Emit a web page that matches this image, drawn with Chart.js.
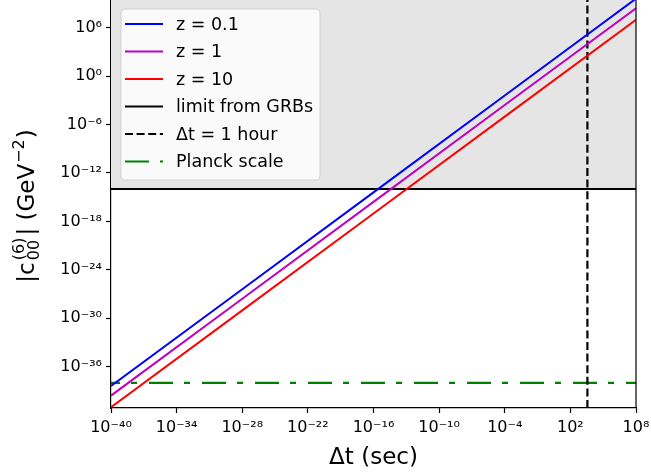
<!DOCTYPE html>
<html><head><meta charset="utf-8">
<script src="https://cdn.jsdelivr.net/npm/chart.js@4.4.1/dist/chart.umd.min.js"></script>
<style>html,body{margin:0;padding:0;background:#fff;}#wrap{width:651px;height:473px;}</style>
</head><body><div id="wrap"><canvas id="c" width="651" height="473"></canvas></div>
<script>
// ---- data ----
const dtSec = [1e-40, 1e-28, 1e-16, 1e-4, 1e8];
const cZ01 = [4.0e-39, 4.0e-27, 4.0e-15, 4.0e-3, 4.0e9];
const cZ1  = [2.6e-40, 2.6e-28, 2.6e-16, 2.6e-4, 2.6e8];
const cZ10 = [9.5e-42, 9.5e-30, 9.5e-18, 9.5e-6, 9.5e6];
const seriesLabels = ['z = 0.1', 'z = 1', 'z = 10', 'limit from GRBs', 'Δt = 1 hour', 'Planck scale'];
const grbLimit = 1e-14;
const oneHour = 3600;
const planckScale = 1e-38;
const xRange = [1e-40, 1e8];
const yRange = [7.6e-42, 2.7e9];
const xTickValues = [1e-40, 1e-34, 1e-28, 1e-22, 1e-16, 1e-10, 1e-4, 1e2, 1e8];
const xTickLabels = ['10⁻⁴⁰', '10⁻³⁴', '10⁻²⁸', '10⁻²²', '10⁻¹⁶', '10⁻¹⁰', '10⁻⁴', '10²', '10⁸'];
const yTickValues = [1e-36, 1e-30, 1e-24, 1e-18, 1e-12, 1e-6, 1e0, 1e6];
const yTickLabels = ['10⁻³⁶', '10⁻³⁰', '10⁻²⁴', '10⁻¹⁸', '10⁻¹²', '10⁻⁶', '10⁰', '10⁶'];
const xTitle = 'Δt (sec)';

const FONT = '"DejaVu Sans", sans-serif';
const pts = (xs, ys) => xs.map((x, i) => ({x: x, y: ys[i]}));

const datasets = [
  {label: seriesLabels[0], data: pts(dtSec, cZ01), borderColor: '#0000ff', borderWidth: 2},
  {label: seriesLabels[1], data: pts(dtSec, cZ1), borderColor: '#bf00bf', borderWidth: 2},
  {label: seriesLabels[2], data: pts(dtSec, cZ10), borderColor: '#ff0000', borderWidth: 2},
  {label: seriesLabels[3], data: pts(xRange, [grbLimit, grbLimit]), borderColor: '#000000', borderWidth: 2,
   fill: 'end', backgroundColor: '#e5e5e5'},
  {label: seriesLabels[4], data: pts([oneHour, oneHour], yRange), borderColor: '#000000', borderWidth: 2.2,
   borderDash: [8, 3.6]},
  {label: seriesLabels[5], data: pts(xRange, [planckScale, planckScale]), borderColor: '#008000', borderWidth: 2.2,
   borderDash: [24, 11, 6, 12], borderDashOffset: 15}
];
datasets.forEach(d => { d.pointRadius = 0; d.pointHoverRadius = 0; d.tension = 0; d.borderCapStyle = 'butt'; if (d.fill === undefined) d.fill = false; });

const decor = {
  id: 'decor',
  afterDraw(chart) {
    const ctx = chart.ctx, a = chart.chartArea;
    // right spine
    ctx.save();
    ctx.strokeStyle = '#000'; ctx.lineWidth = 1.2;
    ctx.beginPath(); ctx.moveTo(a.right, a.top); ctx.lineTo(a.right, a.bottom); ctx.stroke();
    ctx.restore();

    // legend
    const lx = 121, ly = 9, lw = 199, lh = 171, r = 4;
    ctx.save();
    ctx.beginPath();
    ctx.moveTo(lx + r, ly); ctx.lineTo(lx + lw - r, ly); ctx.quadraticCurveTo(lx + lw, ly, lx + lw, ly + r);
    ctx.lineTo(lx + lw, ly + lh - r); ctx.quadraticCurveTo(lx + lw, ly + lh, lx + lw - r, ly + lh);
    ctx.lineTo(lx + r, ly + lh); ctx.quadraticCurveTo(lx, ly + lh, lx, ly + lh - r);
    ctx.lineTo(lx, ly + r); ctx.quadraticCurveTo(lx, ly, lx + r, ly); ctx.closePath();
    ctx.fillStyle = 'rgba(255,255,255,0.8)'; ctx.fill();
    ctx.strokeStyle = 'rgba(204,204,204,0.8)'; ctx.lineWidth = 1; ctx.stroke();
    ctx.font = '17.5px ' + FONT; ctx.fillStyle = '#000'; ctx.textBaseline = 'middle'; ctx.textAlign = 'left';
    chart.data.datasets.forEach((d, i) => {
      const y = 24 + i * 27.5;
      ctx.save();
      ctx.strokeStyle = d.borderColor; ctx.lineWidth = d.borderWidth;
      ctx.setLineDash(d.borderDash || []);
      ctx.lineCap = 'butt';
      ctx.beginPath(); ctx.moveTo(125, y); ctx.lineTo(163, y); ctx.stroke();
      ctx.restore();
      ctx.fillText(d.label, 176, y + 1);
    });
    ctx.restore();

    // y axis title with stacked scripts
    const big = '23px ' + FONT, small = '16px ' + FONT;
    ctx.save();
    ctx.fillStyle = '#000';
    ctx.textBaseline = 'alphabetic'; ctx.textAlign = 'left';
    const parts = [
      {t: '|c', f: big, dy: 0},
      {stack: [{t: '(6)', dy: -10}, {t: '00', dy: 5}], f: small, pad: 2},
      {t: '| (GeV', f: big, dy: 0},
      {t: '−2', f: small, dy: -10, pad: 1},
      {t: ')', f: big, dy: 0}
    ];
    let total = 0;
    parts.forEach(p => {
      ctx.font = p.f;
      if (p.stack) p.w = Math.max(...p.stack.map(s => ctx.measureText(s.t).width)) + 2 * p.pad;
      else p.w = ctx.measureText(p.t).width + 2 * (p.pad || 0);
      total += p.w;
    });
    ctx.translate(34, (a.top + a.bottom) / 2 + 2);
    ctx.rotate(-Math.PI / 2);
    let x = -total / 2;
    parts.forEach(p => {
      ctx.font = p.f;
      if (p.stack) p.stack.forEach(s => ctx.fillText(s.t, x + p.pad, s.dy));
      else ctx.fillText(p.t, x + (p.pad || 0), p.dy);
      x += p.w;
    });
    ctx.restore();
  }
};

new Chart(document.getElementById('c'), {
  type: 'line',
  data: {datasets: datasets},
  plugins: [decor],
  options: {
    responsive: false,
    animation: false,
    devicePixelRatio: 1,
    events: [],
    layout: {padding: {top: 0, right: 15, left: 0, bottom: 0}},
    plugins: {legend: {display: false}, tooltip: {enabled: false}, filler: {drawTime: 'beforeDatasetsDraw'}},
    scales: {
      x: {
        type: 'logarithmic', min: xRange[0], max: xRange[1],
        afterBuildTicks: s => { s.ticks = xTickValues.map(v => ({value: v})); },
        afterFit: s => { s.height = 65; s.paddingLeft = 0; s.paddingRight = 0; },
        ticks: {autoSkip: false, maxRotation: 0, minRotation: 0, padding: 5, color: '#000',
                font: {family: FONT, size: 16},
                callback: (v, i) => xTickLabels[i]},
        grid: {display: true, drawOnChartArea: false, drawTicks: true, tickLength: 5, tickColor: '#000', tickWidth: 1.2},
        border: {display: true, color: '#000', width: 1.2},
        title: {display: true, text: xTitle, color: '#000', font: {family: FONT, size: 23}, padding: {top: 0, bottom: 1}}
      },
      y: {
        type: 'logarithmic', min: yRange[0], max: yRange[1],
        afterBuildTicks: s => { s.ticks = yTickValues.map(v => ({value: v})); },
        afterFit: s => { s.width = 111; s.paddingTop = 0; s.paddingBottom = 0; },
        ticks: {autoSkip: false, padding: 4, color: '#000', font: {family: FONT, size: 16},
                callback: (v, i) => yTickLabels[i]},
        grid: {display: true, drawOnChartArea: false, drawTicks: true, tickLength: 5, tickColor: '#000', tickWidth: 1.2},
        border: {display: true, color: '#000', width: 1.2}
      }
    }
  }
});
</script></body></html>
